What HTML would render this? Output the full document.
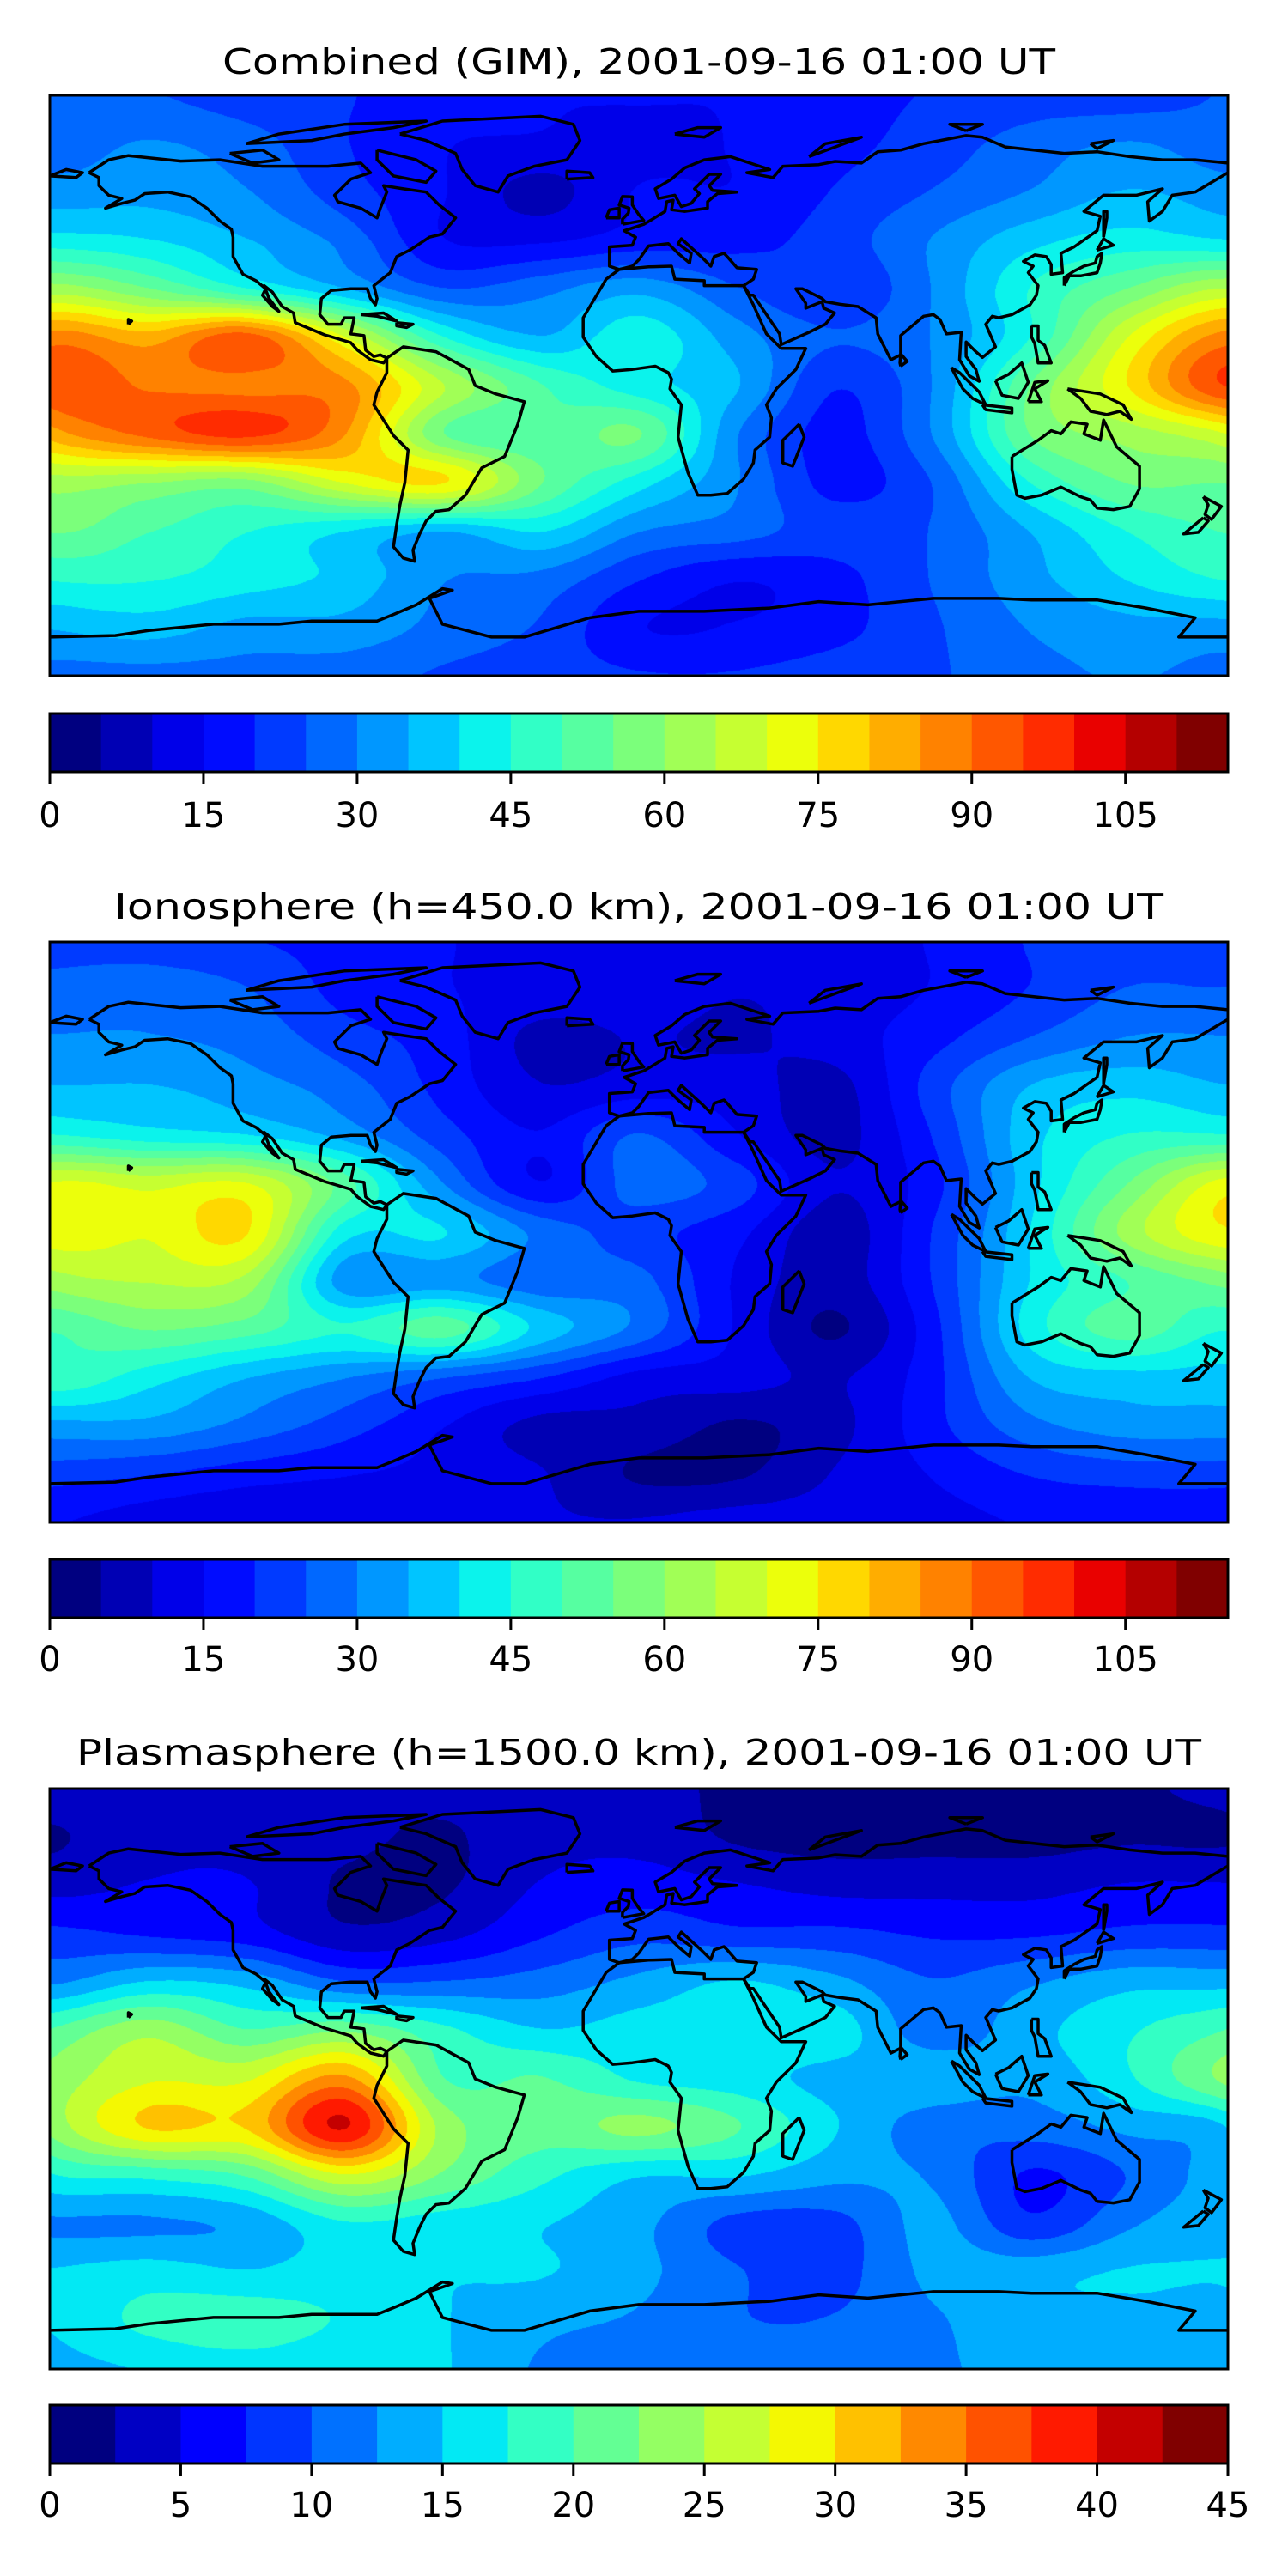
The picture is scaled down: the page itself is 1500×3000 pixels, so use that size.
<!DOCTYPE html>
<html><head><meta charset="utf-8"><style>
html,body{margin:0;padding:0;background:#fff;width:1500px;height:3000px;overflow:hidden}
#root{position:relative;width:1500px;height:3000px}
canvas{position:absolute}
svg{position:absolute;left:0;top:0}
</style></head><body><div id="root"></div>
<script>
// ---- data (grid lon -180..180 step 30, lat 90..-90 step 15) ----
const lonTicks=[-180,-150,-120,-90,-60,-30,0,30,60,90,120,150,180];
const latTicks=[90,75,60,45,30,15,0,-15,-30,-45,-60,-75,-90];
const combinedGrid=[
[25,25,22,20,17,15,15,15,18,20,22,22,25],
[27,30,27,20,15,14,13,15,18,22,27,30,27],
[32,33,30,22,15,8,15,15,20,25,30,35,32],
[42,40,35,28,15,14,17,18,22,30,38,42,40],
[62,55,45,35,25,28,33,25,20,30,45,55,65],
[87,82,92,70,45,35,43,32,25,30,45,70,87],
[93,89,88,86,65,50,42,35,20,30,55,75,95],
[82,91,96,85,55,50,55,30,18,30,55,62,70],
[62,60,58,70,75,55,42,30,18,25,45,55,55],
[55,50,45,40,35,40,30,27,22,25,35,45,50],
[45,45,42,38,30,28,20,15,18,25,33,40,45],
[35,37,33,33,28,24,15,15,18,24,30,33,33],
[28,28,28,27,24,22,20,20,22,24,28,30,28]];
const ionoGrid=[
[22,22,20,18,15,13,13,13,13,15,20,22,22],
[27,28,25,18,15,13,13,10,12,15,20,25,25],
[30,30,28,22,17,8,10,9,12,18,25,30,30],
[35,35,32,27,18,10,12,12,8,22,35,38,35],
[45,42,40,33,22,15,25,15,8,20,38,45,45],
[70,68,70,52,30,15,27,22,10,18,38,55,72],
[72,70,75,42,40,28,22,16,7,20,40,62,74],
[62,65,63,32,32,26,26,14,7,20,40,50,57],
[50,55,52,45,52,38,28,14,4,18,42,52,45],
[48,42,35,30,25,20,13,12,9,18,35,38,38],
[33,33,28,22,15,8,8,4,8,18,28,32,32],
[22,20,17,15,13,10,4,4,10,15,20,22,22],
[15,12,10,10,10,10,10,12,12,13,15,15,15]];
const plasmaGrid=[
[4,4,4,3,3,4,3,2,2,2,2,2,3],
[2,4,4,3,2,4,4,2,1.5,1.5,1.5,2,2],
[4,5,5,2,2,5,6,5,4,4,4,5,5],
[8,7,6,3,4,7,9,8,8,7,7,8,8],
[12,15,14,10,10,11,13,15,13,10,12,14,14],
[20,24,20,22,18,15,16,16,16,11,14,17,20],
[23,27,27,33,20,20,17,16,14,14,13,17,23],
[23,30,30,40,24,21,23,20,15,11,11,13,15],
[17,18,20,27,22,18,15,15,13,12,7,10,14],
[12,12,13,17,16,15,13,9,9,13,8,12,14],
[15,16,15,16,15,15,13,10,9,13,14,15,15],
[15,18,19,17,15,13,12,10,10,12,14,14,14],
[14,15,16,15,15,12,11,11,11,12,13,13,13]];
const levels12=[0,115,5];
const levels3=[0,45,2.5];
const ticks12=[0,15,30,45,60,75,90,105];
const ticks3=[0,5,10,15,20,25,30,35,40,45];
const titles=["Combined (GIM), 2001-09-16 01:00 UT","Ionosphere  (h=450.0 km), 2001-09-16 01:00 UT","Plasmasphere (h=1500.0 km), 2001-09-16 01:00 UT"];

// ---- coastlines (lon,lat) ----
const coasts=[
[[-168,66],[-162,70],[-156,71.3],[-140,69.6],[-128,70],[-115,68],[-95,68],[-85,69],[-82,66],[-88,64],[-93,59],[-92,57],[-85,55],[-80,52],[-79,55],[-77,60],[-78,62],[-72,61],[-65,60],[-61,56],[-56,52],[-60,47],[-64,46],[-67,44],[-70,42],[-74,40],[-76,35],[-81,31],[-80,27],[-80.5,25],[-82,27],[-83,30],[-88,30],[-94,29.5],[-97,27],[-97.5,22],[-95,19],[-91,19],[-90,21],[-87,21],[-88,16],[-84,15.5],[-83.5,11],[-81,9],[-79,9.5],[-77,8.5],[-78,7],[-80,7.5],[-82,8],[-86,11],[-88,13.3],[-92,14.5],[-96,15.7],[-105,19.5],[-105.5,22.5],[-109,24.5],[-112,29],[-114.5,31],[-113,27],[-110,23],[-112,24.5],[-115,28],[-114,30],[-117,32.5],[-121,34.5],[-124,40],[-124,46],[-124.5,48.5],[-128,51],[-132,55],[-137,58.5],[-144,60],[-151,59.5],[-154,57.5],[-158,56.5],[-163,55],[-158,58],[-162,59],[-165,62],[-165,64.5],[-168,66]],
[[-77,8.5],[-72,12],[-62,10.5],[-52,5],[-50,0],[-44,-2.5],[-35,-5],[-37,-12],[-39,-17],[-41,-22],[-48,-25.5],[-53,-34],[-58,-38.5],[-62,-39],[-65,-42],[-67,-46],[-69,-51],[-68.5,-54.5],[-72,-53.5],[-75,-50],[-74,-43],[-73,-37],[-71.5,-30],[-70.5,-20],[-75,-15.5],[-81,-6],[-80,-2],[-77,4],[-77,8.5]],
[[-73,78],[-60,82],[-30,83.5],[-20,81],[-18,76],[-22,70],[-32,68],[-40,65],[-43,60],[-50,62],[-54,67],[-56,72],[-65,76],[-73,78]],
[[-6,36],[-10,33],[-17,21],[-17,15],[-13,9],[-8,4.5],[-2,5],[5,6],[9,4],[10,2],[9.5,-1],[13,-6],[12,-16],[15,-27],[18,-34],[22,-34],[27,-33.5],[32,-29],[35,-24],[35.5,-20],[40,-16],[40.5,-10],[39,-6],[42,-1],[48,5],[51,11.5],[43.5,11.5],[39,16],[35,25],[33,29],[32,31],[29,31],[20,31],[20,32.5],[11,33],[10,37],[3,36.8],[-6,36]],
[[32,31],[35,33],[36,36],[30,36.5],[27,40],[26,41],[23,40],[22,37],[19,40],[13,45.5],[12,44],[16,41],[15.5,38],[12,41],[9,44],[3,43.3],[0,39],[-2,37],[-6,36],[-9,37],[-9,43],[-2,43.5],[-1,46],[-4.5,48],[1.5,50],[4,51.5],[8,54],[8.5,57],[10.5,57.5],[10,54.5],[14,54],[21,55],[21,57],[24,59.5],[30,60],[22.5,60.5],[21.5,62],[25,65.5],[21.5,65.5],[17,61],[18.5,59.5],[16,56.5],[13,55.5],[11,59],[6,58],[5,61],[10,64],[14,67.5],[20,70],[28,71],[40,67],[33,66],[41,64.5],[44,68],[55,68.5],[60,69.5],[68,69],[73,72.5],[80,73],[87,75],[100,77.5],[105,77],[112,74],[130,72],[140,72.5],[150,71],[160,70],[170,70],[180,69]],
[[180,66],[170,60],[163,59],[160,54],[156,51],[155.5,57],[160,61],[152,59],[142,59],[136,54],[141,52.5],[140,48],[133,43],[129,41],[129.5,35],[126,34.5],[126,37.5],[124.5,40],[121,40.5],[117.5,38.5],[120.5,37],[119,35],[122,31],[121.5,28],[119.5,25],[114,22],[110,21],[108,21.5],[106,19],[109,12],[105,8.7],[103,10.5],[100,13.5],[100,9],[103,5],[104,1.3],[101,3],[98,8],[98.5,16.5],[94,16],[92,20.5],[90,22],[87,21.5],[80,15.5],[80,9.5],[77,8],[73,16],[72.5,21],[67,24.5],[61.5,25.2],[57,26],[56,27],[50,30],[48,30],[51,25.5],[51,24],[56,26],[56.5,24],[59.8,22.5],[57,19],[52,16.5],[43.5,12.7],[43,16],[39,22],[35,28],[34,28],[32,31]],
[[114,-22],[114,-26],[115.5,-34],[118,-35],[123,-34],[129,-31.5],[135,-34.5],[138,-35.5],[140,-38],[145,-38.5],[150,-37.5],[153,-32],[153,-25],[146,-19],[142,-10.7],[141,-17],[136,-15],[137,-12],[132,-11.3],[129,-15],[126,-14],[122,-17],[114,-22]],
[[-180,-78],[-160,-77.5],[-150,-76],[-130,-74],[-110,-74],[-100,-73],[-80,-73],[-75,-71],[-68,-68],[-60,-63],[-57,-63.5],[-64,-66],[-62,-70],[-60,-74],[-45,-78],[-35,-78],[-25,-75],[-15,-72],[0,-70],[20,-70],[40,-69],[55,-67],[70,-68],[80,-67],[90,-66],[110,-66],[120,-66.5],[140,-66.5],[155,-69],[165,-71],[170,-72],[165,-78],[180,-78]],
[[-5,50],[1.5,51.2],[0,53],[-2,56],[-2,58.5],[-5,58.6],[-6,56],[-3,55],[-3.2,53.5],[-5,51.6],[-5,50]],
[[-10,52],[-6,52],[-6,55],[-9,54.5],[-10,52]],
[[130,31],[131.5,34],[135,34],[140,35],[141,38],[141.5,41],[140,40],[139.5,38],[136,37],[133,35.5],[130,33.5],[130,31]],
[[140,42],[145,43.5],[142,45.5],[140,42]],
[[49,-12],[50.5,-16],[47,-25],[44,-24],[44,-17],[49,-12]],
[[109,1.5],[111,-3],[116,-4],[119,1],[117,7],[113,3.5],[109,1.5]],
[[95.5,5.5],[98,4],[104,-2],[106,-6],[102,-4],[99,-1],[95.5,5.5]],
[[105,-6],[114,-7],[114,-8.5],[106,-7.5],[105,-6]],
[[131,-1],[141,-2.6],[148,-6],[150.5,-10.5],[147,-8],[143,-9],[138,-8],[135,-4],[131,-1]],
[[172.5,-34.5],[178,-37.5],[175,-41.5],[173,-40],[174,-37],[172.5,-34.5]],
[[172.5,-41],[174,-42],[171,-45.5],[166.5,-46],[172.5,-41]],
[[-22,64],[-14,64.5],[-15,66],[-22,66.5],[-22,64]],
[[-85,22],[-78,22.5],[-74,20],[-80,21.5],[-85,22]],
[[-74,19.5],[-69,19],[-71,18],[-74,18.5],[-74,19.5]],
[[-80,73],[-68,70],[-62,66.5],[-65,63],[-75,65],[-80,70],[-80,73]],
[[-120,75],[-100,76],[-90,78],[-75,80],[-65,82],[-90,81],[-110,78],[-120,75]],
[[-125,72],[-115,73],[-110,70],[-118,69],[-125,72]],
[[11,78],[18,80],[25,80],[20,77],[11,78]],
[[52,71],[57,75],[68,77],[60,74],[52,71]],
[[120,18.5],[122,18.5],[122,14],[124,12.5],[126,7],[122,7],[121,13],[120,15],[120,18.5]],
[[142,46],[143,52],[143,54],[142,54],[142,46]],
[[119,-5],[121,1],[125,1.5],[121,-1],[123,-5],[119,-5]],
[[80,6],[82,7.5],[80,9.8],[79.8,7],[80,6]],
[[-156,19],[-155,20],[-156,20.5],[-156,19]],
[[-180,65],[-175,67],[-170,66],[-172,64.5],[-180,65]],
[[100,79],[105,81],[95,81],[100,79]],
[[138,75],[145,76],[140,73.5],[138,75]]
];

// ---- layout ----
const MX=58, MW=1372, MH=676;
const panelTop=[111,1097,2083];
const cbTop=[831,1816,2801], CBH=68;
const titleY=[86,1070,2055];
const titleLen=[970,1222,1310];
const labelY=[963,1946,2931];
const grids=[combinedGrid,ionoGrid,plasmaGrid];
const lv=[levels12,levels12,levels3];
const tk=[ticks12,ticks12,ticks3];

function jet(x){
  function seg(p,x){for(let i=0;i<p.length-1;i++){if(x<=p[i+1][0]){const t=(x-p[i][0])/(p[i+1][0]-p[i][0]);return p[i][1]+t*(p[i+1][1]-p[i][1]);}}return p[p.length-1][1];}
  const r=seg([[0,0],[0.35,0],[0.66,1],[0.89,1],[1,0.5]],x);
  const g=seg([[0,0],[0.125,0],[0.375,1],[0.64,1],[0.91,0],[1,0]],x);
  const b=seg([[0,0.5],[0.11,1],[0.34,1],[0.65,0],[1,0]],x);
  return [Math.round(r*255),Math.round(g*255),Math.round(b*255)];
}
function cr(p0,p1,p2,p3,t){return p1+0.5*t*(p2-p0+t*(2*p0-5*p1+4*p2-p3+t*(3*(p1-p2)+p3-p0)));}
function sample(G,gx,gy){
  const nx=G[0].length, ny=G.length;
  const ix=Math.floor(gx), iy=Math.floor(gy), tx=gx-ix, ty=gy-iy;
  const rows=[];
  for(let j=-1;j<3;j++){
    const yy=Math.min(ny-1,Math.max(0,iy+j)); const R=G[yy];
    const v=k=>{let xx=ix+k; if(xx<0)xx+=nx-1; if(xx>nx-1)xx-=nx-1; return R[Math.min(nx-1,Math.max(0,xx))];};
    rows.push(cr(v(-1),v(0),v(1),v(2),tx));
  }
  return cr(rows[0],rows[1],rows[2],rows[3],ty);
}
const root=document.getElementById('root');
const NS='http://www.w3.org/2000/svg';
const svg=document.createElementNS(NS,'svg');
svg.setAttribute('width','1500');svg.setAttribute('height','3000');



for(let p=0;p<3;p++){
  const G=grids[p], L=lv[p];
  const nb=Math.round((L[1]-L[0])/L[2]);
  const eps=L[2]*0.07;
  const cols=[]; for(let i=0;i<nb;i++) cols.push(jet(i/(nb-1)));
  const cv=document.createElement('canvas');
  cv.width=MW; cv.height=MH; cv.style.left=MX+'px'; cv.style.top=panelTop[p]+'px';
  
  
  const ctx=cv.getContext('2d'); const img=ctx.createImageData(MW,MH); const d=img.data;
  const nx=lonTicks.length-1, ny=latTicks.length-1;
  for(let y=0;y<MH;y++){const gy=(y+0.5)/MH*ny;
    for(let x=0;x<MW;x++){const gx=(x+0.5)/MW*nx;
      let v=sample(G,gx,gy)+eps; let b=Math.floor((v-L[0])/L[2]); if(b<0)b=0; if(b>nb-1)b=nb-1;
      const c=cols[b], k=(y*MW+x)*4; d[k]=c[0];d[k+1]=c[1];d[k+2]=c[2];d[k+3]=255;}}
  ctx.putImageData(img,0,0); root.appendChild(cv);

  const top=panelTop[p];
  const px=lon=>MX+(lon+180)/360*MW, py=lat=>top+(90-lat)/180*MH;
  const cg=document.createElementNS(NS,'g');
  
  
  cg.setAttribute('clip-path','url(#clip'+p+')');
  const cp=document.createElementNS(NS,'clipPath'); cp.setAttribute('id','clip'+p);
  const cr2=document.createElementNS(NS,'rect'); cr2.setAttribute('x',MX);cr2.setAttribute('y',top);cr2.setAttribute('width',MW);cr2.setAttribute('height',MH);
  cp.appendChild(cr2); svg.appendChild(cp);
  for(const c of coasts){
    const pl=document.createElementNS(NS,'polyline');
    pl.setAttribute('points',c.map(q=>px(q[0]).toFixed(1)+','+py(q[1]).toFixed(1)).join(' '));
    pl.setAttribute('fill','none');pl.setAttribute('stroke','#000');pl.setAttribute('stroke-width','3.5');pl.setAttribute('stroke-linejoin','round');
    
    
    cg.appendChild(pl);
  }
  svg.appendChild(cg);
  const fr=document.createElementNS(NS,'rect');
  fr.setAttribute('x',MX);fr.setAttribute('y',top);fr.setAttribute('width',MW);fr.setAttribute('height',MH);
  fr.setAttribute('fill','none');fr.setAttribute('stroke','#000');fr.setAttribute('stroke-width','3');
  
  
  svg.appendChild(fr);
  const t=document.createElementNS(NS,'text');
  t.setAttribute('x',MX+MW/2);t.setAttribute('y',titleY[p]);t.setAttribute('text-anchor','middle');
  t.setAttribute('font-family','"DejaVu Sans","Liberation Sans",sans-serif');t.setAttribute('font-size','41');
  t.setAttribute('textLength',titleLen[p]);t.setAttribute('lengthAdjust','spacingAndGlyphs');
  
  
  t.textContent=titles[p]; svg.appendChild(t);
  // colorbar
  const cb=document.createElementNS(NS,'g');
  
  
  const sx=v=>MX+(v-L[0])/(L[1]-L[0])*MW;
  for(let i=0;i<nb;i++){
    const r=document.createElementNS(NS,'rect');
    const x0=sx(L[0]+i*L[2]), x1=sx(L[0]+(i+1)*L[2]);
    r.setAttribute('x',x0);r.setAttribute('y',cbTop[p]);r.setAttribute('width',x1-x0+0.6);r.setAttribute('height',CBH);
    r.setAttribute('fill','rgb('+cols[i].join(',')+')');
    
    
    cb.appendChild(r);
  }
  const cbf=document.createElementNS(NS,'rect');
  cbf.setAttribute('x',MX);cbf.setAttribute('y',cbTop[p]);cbf.setAttribute('width',MW);cbf.setAttribute('height',CBH);
  cbf.setAttribute('fill','none');cbf.setAttribute('stroke','#000');cbf.setAttribute('stroke-width','3');
  
  
  cb.appendChild(cbf);
  for(const v of tk[p]){
    const ln=document.createElementNS(NS,'line');
    ln.setAttribute('x1',sx(v));ln.setAttribute('x2',sx(v));ln.setAttribute('y1',cbTop[p]+CBH);ln.setAttribute('y2',cbTop[p]+CBH+14);
    ln.setAttribute('stroke','#000');ln.setAttribute('stroke-width','3');
    
    
    cb.appendChild(ln);
    const tl=document.createElementNS(NS,'text');
    tl.setAttribute('x',sx(v));tl.setAttribute('y',labelY[p]);tl.setAttribute('text-anchor','middle');
    tl.setAttribute('font-family','"DejaVu Sans","Liberation Sans",sans-serif');tl.setAttribute('font-size','40');
    
    
    tl.textContent=String(v); cb.appendChild(tl);
  }
  svg.appendChild(cb);
}
root.appendChild(svg);
</script></body></html>
